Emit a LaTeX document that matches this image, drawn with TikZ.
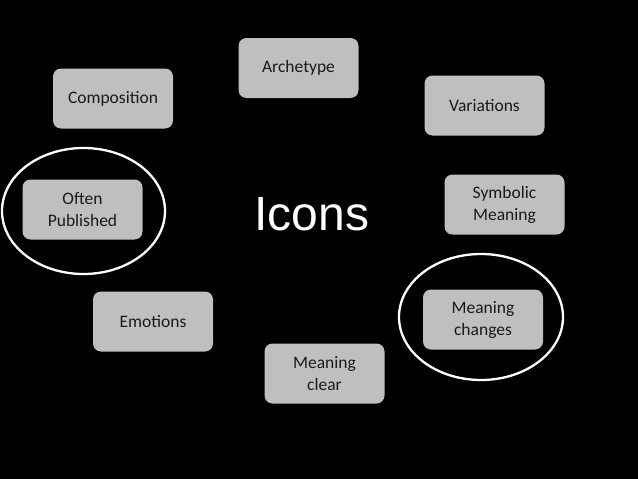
\documentclass[tikz,border=0pt]{standalone}
\usepackage{fontspec}
\setmainfont{Carlito}
\newfontfamily\iconsfont{Liberation Sans}
\definecolor{boxgray}{HTML}{BFBFBF}
\definecolor{boxtext}{HTML}{1A1A1A}
\tikzset{
  itembox/.style={rectangle, rounded corners=8pt, fill=boxgray, draw=none,
    minimum width=120pt, minimum height=60pt, inner sep=0pt, align=center,
    text=boxtext, font=\fontsize{17.5}{22}\selectfont},
  ring/.style={draw=white, line width=2.3pt}
}
\begin{document}
\begin{tikzpicture}[x=1pt, y=-1pt]
\fill[black] (0,0) rectangle (638,479);
\useasboundingbox (0,0) rectangle (638,479);
\node[itembox] (archetype) at (298.5,68) {Archetype};
\node[itembox] (composition) at (113,98.5) {Composition};
\node[itembox] (variations) at (484.5,105.5) {Variations};
\node[itembox] (often) at (82.5,209.5) {Often\\Published};
\node[itembox] (symbolic) at (504.5,204.5) {Symbolic\\Meaning};
\node[itembox] (emotions) at (153,321.5) {Emotions};
\node[itembox] (changes) at (483,319.5) {Meaning\\changes};
\node[itembox] (clear) at (324.5,373.5) {Meaning\\clear};
\node[text=white, font=\iconsfont\fontsize{48}{56}\selectfont, inner sep=0pt, anchor=base] (icons) at (312,230) {Icons};
\coordinate (lring) at (83.5,211);
\coordinate (rring) at (481,317);
\draw[ring] (lring) ellipse [x radius=81.5pt, y radius=63pt];
\draw[ring] (rring) ellipse [x radius=82pt, y radius=63pt];
\end{tikzpicture}
\end{document}
